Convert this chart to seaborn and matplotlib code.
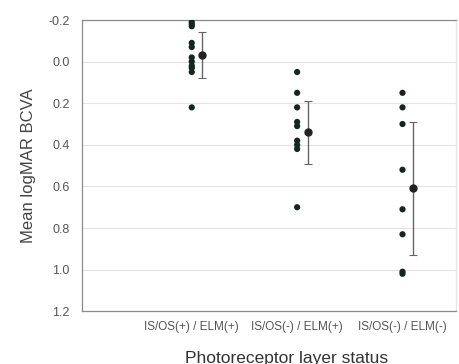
import matplotlib
matplotlib.use("Agg")
import matplotlib.pyplot as plt
import seaborn as sns
import numpy as np
import pandas as pd

categories = ["IS/OS(+) / ELM(+)", "IS/OS(-) / ELM(+)", "IS/OS(-) / ELM(-)"]
group1 = [-0.19, -0.18, -0.17, -0.09, -0.07, -0.02, 0.0, 0.02, 0.03, 0.05, 0.22]
group2 = [0.05, 0.15, 0.22, 0.29, 0.31, 0.38, 0.40, 0.42, 0.70]
group3 = [0.15, 0.22, 0.30, 0.52, 0.71, 0.83, 1.01, 1.02]
means = [-0.03, 0.34, 0.61]
sds = [0.11, 0.15, 0.32]

rows = []
for i, vals in enumerate([group1, group2, group3]):
    for v in vals:
        rows.append({"pos": i, "bcva": v})
df = pd.DataFrame(rows)

sns.set_style("white")
plt.rcParams["font.family"] = ["Liberation Sans", "DejaVu Sans"]

fig = plt.figure(figsize=(4.59, 3.64), dpi=100)
ax = fig.add_axes([0.179, 0.145, 0.815, 0.80])

# individual eyes
sns.scatterplot(data=df, x="pos", y="bcva", ax=ax, color="#15261d",
                s=20, edgecolor="none", legend=False, zorder=3)

# mean +/- SD, shifted a bit right of the points
pos = np.arange(len(categories)) + 0.1
ax.errorbar(pos, means, yerr=sds, fmt="o", color="#222222", ecolor="#666666",
            elinewidth=1.0, capsize=3, capthick=0.8, markersize=5, zorder=4)

ax.set_ylim(1.2, -0.2)
ticks = np.arange(-0.2, 1.21, 0.2)
ax.set_yticks(ticks)
ax.set_yticklabels([f"{t:.1f}" for t in ticks])
ax.set_xlim(-1.04, 2.51)
ax.set_xticks(range(len(categories)))
ax.set_xticklabels(categories)

ax.grid(axis="y", color="#e4e4e4", linewidth=0.8)
ax.set_axisbelow(True)
for s in ax.spines.values():
    s.set_color("#8a8a8a")
    s.set_linewidth(0.9)
ax.spines["right"].set_color("#e6e6e6")

ax.tick_params(axis="y", length=0, labelsize=9, labelcolor="#555555", pad=9)
ax.tick_params(axis="x", direction="in", length=3, color="#888888",
               labelsize=8.5, labelcolor="#555555", pad=7)

ax.set_ylabel("Mean logMAR BCVA", fontsize=12, color="#444444", labelpad=9)
ax.set_xlabel("Photoreceptor layer status", fontsize=12.5, color="#333333", labelpad=12)
ax.xaxis.set_label_coords(0.546, -0.135)

fig.savefig("out.png", dpi=100)
